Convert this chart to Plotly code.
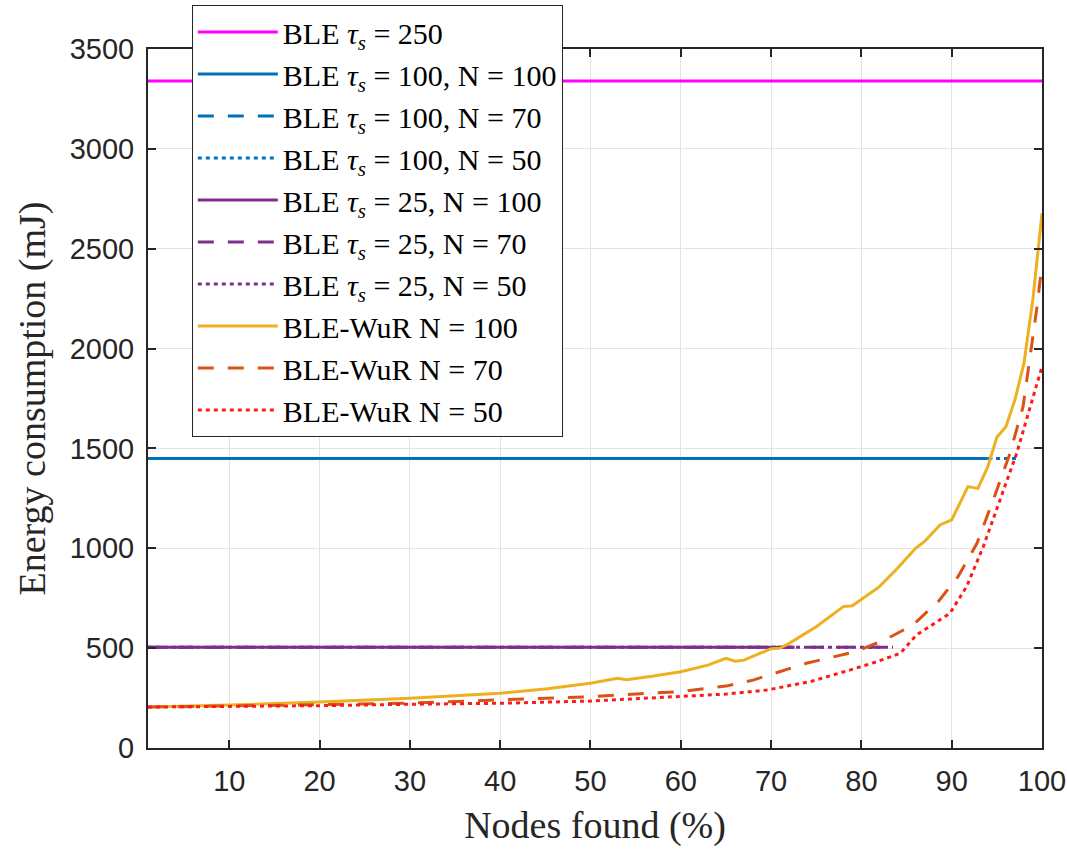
import plotly.graph_objects as go

# ---------------- data ----------------
ble250_x = [1, 100]
ble250_y = [3340, 3340]

ble100_n100_x = [1, 94]
ble100_n70_x = [1, 94.5]
ble100_n50_x = [1, 97.5]
ble100_level = 1450

ble25_n100_x = [1, 72.6]
ble25_n70_x = [1, 83]
ble25_n50_x = [1, 83.5]
ble25_level = 505

wur100_x = [1, 10, 20, 30, 40, 45, 50, 53, 54, 57, 60, 63, 65, 66, 67, 70, 71, 72, 75, 78, 79,
            82, 84, 86, 87, 88.7, 90, 91.8, 92.9, 94, 95, 96, 97, 98, 99, 100]
wur100_y = [205, 215, 230, 249, 274, 295, 324, 349, 342, 360, 382, 415, 449, 435, 440, 497, 500, 524,
            607, 708, 712, 808, 900, 1000, 1034, 1117, 1142, 1309, 1300, 1408, 1556, 1609, 1743,
            1926, 2250, 2677]

wur70_x = [1, 10, 20, 30, 40, 50, 60, 65, 68, 70.4, 73.9, 79.3, 82.6, 85.7, 88.5, 90.7, 92.8,
           94.6, 96.45, 97.9, 99.4, 100]
wur70_y = [205, 210, 217, 225, 240, 257, 283, 310, 340, 374, 424, 482, 541, 616, 733, 858, 1025,
           1242, 1475, 1709, 2193, 2420]

wur50_x = [1, 10, 20, 30, 40, 50, 60, 65, 69.5, 74.3, 78.7, 81.7, 84.3, 86.1, 89.8, 91.65, 93.5,
           95.35, 97.2, 98.7, 100]
wur50_y = [205, 207, 212, 219, 224, 235, 257, 270, 290, 332, 390, 432, 474, 566, 674, 808, 1008,
           1242, 1476, 1709, 1909]

x_ticks = [10, 20, 30, 40, 50, 60, 70, 80, 90, 100]
y_ticks = [0, 500, 1000, 1500, 2000, 2500, 3000, 3500]

# ---------------- styles ----------------
MAGENTA = "#FF00FF"
BLUE = "#0072BD"
PURPLE = "#7E2F8E"
YELLOW = "#EDB120"
ORANGE = "#D95319"
RED = "#FF1A1A"
W = 3
DASH = "16px,14px"
DOT = "4px,4px"
SERIF = "Liberation Serif, Times New Roman, serif"
SANS = "Liberation Sans, Arial, sans-serif"

tau = "BLE <i>τ</i><sub><i>s</i></sub>"
EQ = " = "

fig = go.Figure()

def add(x, y, name, color, dash):
    fig.add_trace(go.Scatter(x=x, y=y, mode="lines", name=name,
                             line=dict(color=color, width=W, dash=dash)))

add(ble250_x, ble250_y, f"{tau}{EQ}250", MAGENTA, "solid")
add(ble100_n100_x, [ble100_level] * 2, f"{tau}{EQ}100, N{EQ}100", BLUE, "solid")
add(ble100_n70_x, [ble100_level] * 2, f"{tau}{EQ}100, N{EQ}70", BLUE, DASH)
add(ble100_n50_x, [ble100_level] * 2, f"{tau}{EQ}100, N{EQ}50", BLUE, DOT)
add(ble25_n100_x, [ble25_level] * 2, f"{tau}{EQ}25, N{EQ}100", PURPLE, "solid")
add(ble25_n70_x, [ble25_level] * 2, f"{tau}{EQ}25, N{EQ}70", PURPLE, DASH)
add(ble25_n50_x, [ble25_level] * 2, f"{tau}{EQ}25, N{EQ}50", PURPLE, DOT)
add(wur100_x, wur100_y, f"BLE-WuR N{EQ}100", YELLOW, "solid")
add(wur70_x, wur70_y, f"BLE-WuR N{EQ}70", ORANGE, DASH)
add(wur50_x, wur50_y, f"BLE-WuR N{EQ}50", RED, DOT)

axis_common = dict(
    showline=True, linecolor="#262626", linewidth=2, mirror="ticks",
    ticks="inside", ticklen=8, tickwidth=2, tickcolor="#262626",
    showgrid=True, gridcolor="#E3E3E3", gridwidth=1, zeroline=False,
    tickfont=dict(family=SANS, size=29, color="#262626"),
)

fig.update_layout(
    width=1067, height=849,
    paper_bgcolor="white", plot_bgcolor="white",
    margin=dict(l=148, r=25, t=49, b=101, autoexpand=False),
    xaxis=dict(range=[1, 100], tickvals=x_ticks, ticklabelstandoff=6,
               title=dict(text="Nodes found (%)", standoff=16,
                          font=dict(family=SERIF, size=38, color="#262626")),
               **axis_common),
    yaxis=dict(range=[0, 3500], tickvals=y_ticks, ticklabelstandoff=6,
               title=dict(text="Energy consumption (mJ)", standoff=12,
                          font=dict(family=SERIF, size=38, color="#262626")),
               **axis_common),
    legend=dict(x=0.049, y=1.063, xanchor="left", yanchor="top",
                bgcolor="white", bordercolor="#262626", borderwidth=1,
                font=dict(family=SERIF, size=30, color="black"),
                itemwidth=80, tracegroupgap=0, maxheight=1000),
    showlegend=True,
)

fig.write_html("out.html", config={"displayModeBar": False},
               post_script="document.body.style.margin='0';")
